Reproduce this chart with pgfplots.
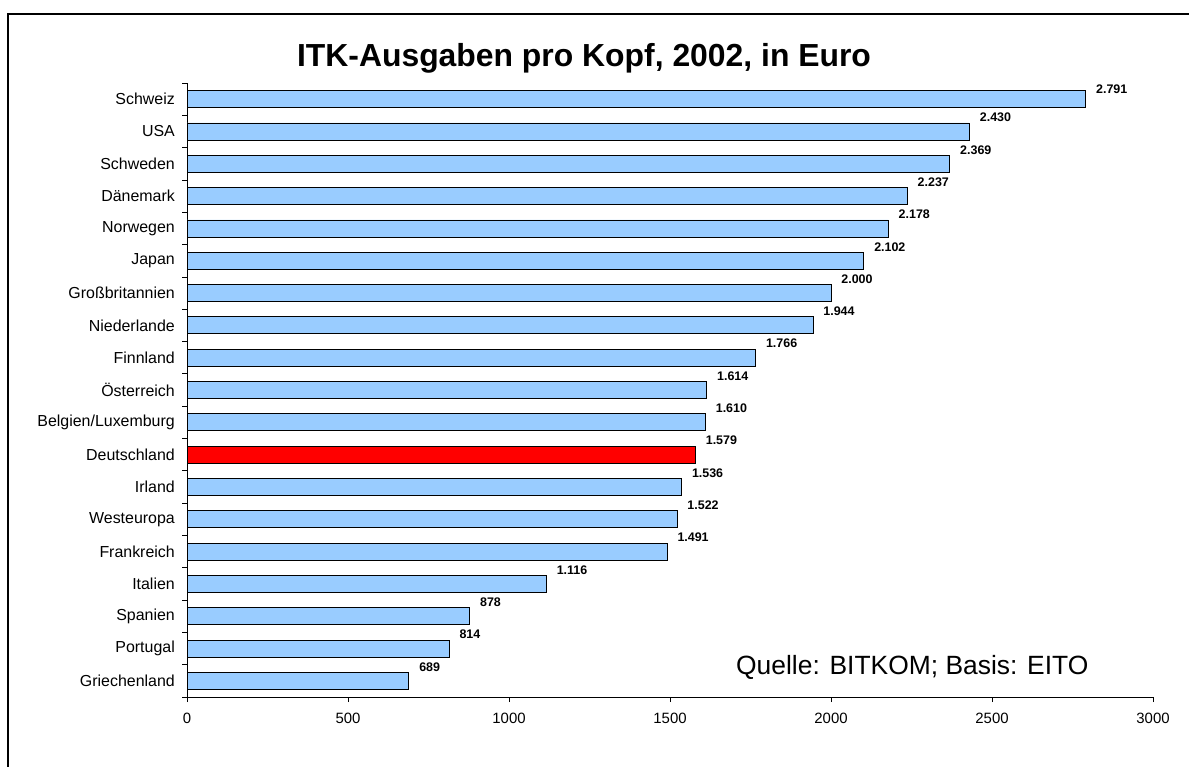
\documentclass[border=0pt]{standalone}
\usepackage{pgfplots}
\pgfplotsset{compat=1.18}
\usepackage{fontspec}
\setmainfont{Liberation Sans}
\definecolor{barblue}{RGB}{153,204,255}
\begin{document}
\begin{tikzpicture}[x=1bp,y=1bp]
\path[use as bounding box] (0,0) rectangle (1189,-767);
\draw[line width=2bp] (8,-767) -- (8,-14) -- (1189,-14);
\node[font=\bfseries\fontsize{32}{38}\selectfont, anchor=base, inner sep=0pt] at (584,-67) {ITK-Ausgaben pro Kopf, 2002, in Euro};
\begin{axis}[
  at={(187bp,-697bp)}, anchor=south west,
  width=966bp, height=614bp, scale only axis,
  xbar, bar shift=0pt, bar width=17bp,
  xmin=0, xmax=3000, ymin=-0.5, ymax=18.5,
  axis x line=bottom, axis y line=left,
  axis line style={-, line width=0.8bp, black},
  xtick={0,500,...,3000},
  ytick={-0.5,0.5,...,18.5},
  y tick label as interval,
  yticklabels={Griechenland,Portugal,Spanien,Italien,Frankreich,Westeuropa,Irland,Deutschland,{Belgien/Luxemburg},Österreich,Finnland,Niederlande,Großbritannien,Japan,Norwegen,Dänemark,Schweden,USA,Schweiz},
  tick align=outside, major tick length=5bp,
  tick style={black, line width=0.8bp},
  /pgf/number format/1000 sep={},
  /pgf/number format/assume math mode=true,
  xticklabel style={font=\fontsize{15}{18}\selectfont, inner sep=0pt, yshift=-11bp},
  yticklabel style={font=\fontsize{16}{19}\selectfont, inner sep=0pt, xshift=-7bp},
  point meta=explicit symbolic,
  nodes near coords,
  nodes near coords style={font=\bfseries\fontsize{12.5}{15}\selectfont, anchor=west, inner sep=0pt, xshift=10bp, yshift=14bp},
  clip=false,
]
\addplot[fill=barblue, draw=black, line width=0.8bp,
  nodes near coords style={yshift=-4bp}] coordinates {(2791,18) [2.791]};
\addplot[fill=barblue, draw=black, line width=0.8bp] coordinates {
  (2430,17) [2.430]
  (2369,16) [2.369]
  (2237,15) [2.237]
  (2178,14) [2.178]
  (2102,13) [2.102]
  (2000,12) [2.000]
  (1944,11) [1.944]
  (1766,10) [1.766]
  (1614,9) [1.614]
  (1610,8) [1.610]
  (1536,6) [1.536]
  (1522,5) [1.522]
  (1491,4) [1.491]
  (1116,3) [1.116]
  (878,2) [878]
  (814,1) [814]
  (689,0) [689]
};
\addplot[fill=red, draw=black, line width=0.8bp] coordinates {(1579,7) [1.579]};
\end{axis}
\node[font=\fontsize{26.5}{32}\selectfont, anchor=base west, inner sep=0pt] at (736,-674) {Quelle: BITKOM; Basis: EITO};
\end{tikzpicture}
\end{document}
